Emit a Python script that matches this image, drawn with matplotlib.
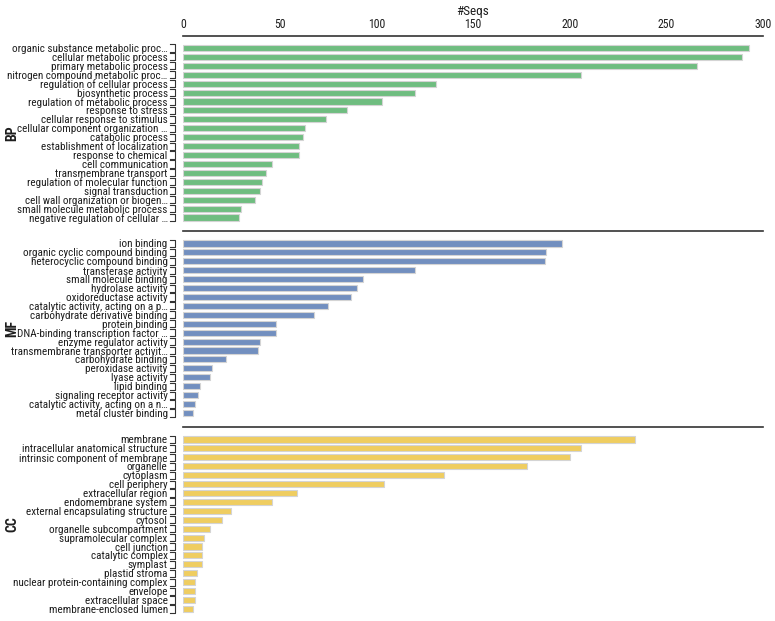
import matplotlib
matplotlib.use("Agg")
import matplotlib.pyplot as plt
import matplotlib.transforms as mtransforms
from matplotlib import font_manager


def has_font(name):
    try:
        font_manager.findfont(font_manager.FontProperties(family=name),
                              fallback_to_default=False)
        return True
    except ValueError:
        return False


# the reference uses a condensed face; use one if there is one installed
if has_font('Roboto Condensed'):
    base_font, label_size = 'Roboto Condensed', 8.0
elif has_font('Liberation Sans Narrow'):
    base_font, label_size = 'Liberation Sans Narrow', 8.0
else:
    base_font, label_size = 'Roboto', 7.0
plt.rcParams['font.family'] = [base_font, 'DejaVu Sans']

# --- data ---
bp_terms = [
    "organic substance metabolic proc…", "cellular metabolic process",
    "primary metabolic process", "nitrogen compound metabolic proc…",
    "regulation of cellular process", "biosynthetic process",
    "regulation of metabolic process", "response to stress",
    "cellular response to stimulus", "cellular component organization …",
    "catabolic process", "establishment of localization",
    "response to chemical", "cell communication", "transmembrane transport",
    "regulation of molecular function", "signal transduction",
    "cell wall organization or biogen…", "small molecule metabolic process",
    "negative regulation of cellular …",
]
bp_counts = [293, 289, 266, 206, 131, 120, 103, 85, 74, 63,
             62, 60, 60, 46, 43, 41, 40, 37, 30, 29]

mf_terms = [
    "ion binding", "organic cyclic compound binding",
    "heterocyclic compound binding", "transferase activity",
    "small molecule binding", "hydrolase activity", "oxidoreductase activity",
    "catalytic activity, acting on a p…", "carbohydrate derivative binding",
    "protein binding", "DNA-binding transcription factor …",
    "enzyme regulator activity", "transmembrane transporter activit…",
    "carbohydrate binding", "peroxidase activity", "lyase activity",
    "lipid binding", "signaling receptor activity",
    "catalytic activity, acting on a n…", "metal cluster binding",
]
mf_counts = [196, 188, 187, 120, 93, 90, 87, 75, 68, 48,
             48, 40, 39, 22, 15, 14, 9, 8, 6, 5]

cc_terms = [
    "membrane", "intracellular anatomical structure",
    "intrinsic component of membrane", "organelle", "cytoplasm",
    "cell periphery", "extracellular region", "endomembrane system",
    "external encapsulating structure", "cytosol",
    "organelle subcompartment", "supramolecular complex", "cell junction",
    "catalytic complex", "symplast", "plastid stroma",
    "nuclear protein-containing complex", "envelope",
    "extracellular space", "membrane-enclosed lumen",
]
cc_counts = [234, 206, 200, 178, 135, 104, 59, 46, 25, 20,
             14, 11, 10, 10, 10, 7, 6, 6, 6, 5]

groups = ["BP", "MF", "CC"]
colors = ["#6fbd80", "#728fbf", "#efcd60"]
x_ticks = [0, 50, 100, 150, 200, 250, 300]

W, H = 775, 621
fig = plt.figure(figsize=(W / 100, H / 100), dpi=100)

left_px, right_px = 183, 763
panel_tops = [35.5, 231, 427]
panel_h = 190

data = [(bp_terms, bp_counts), (mf_terms, mf_counts), (cc_terms, cc_counts)]

for k, (terms, counts) in enumerate(data):
    top = panel_tops[k]
    ax = fig.add_axes([left_px / W, 1 - (top + panel_h) / H,
                       (right_px - left_px) / W, panel_h / H])
    ypos = list(range(len(terms)))
    ax.barh(ypos, counts, height=0.68, color=colors[k],
            edgecolor="#d4d4d4", linewidth=0.8)
    ax.set_xlim(0, 300)
    ax.set_ylim(len(terms) - 0.1, -1.4)

    ax.set_yticks(ypos)
    ax.set_yticklabels(terms, fontsize=label_size, color="#1e1e1e")
    ax.tick_params(axis="y", length=0, pad=11)

    # bracket marks next to each category
    trans = mtransforms.blended_transform_factory(ax.transAxes, ax.transData)
    for y in ypos:
        ax.plot([-0.022, -0.0135, -0.0135, -0.022],
                [y - 0.4, y - 0.4, y + 0.4, y + 0.4],
                transform=trans, color="#333333", lw=0.8, clip_on=False)

    for side in ["left", "right", "bottom"]:
        ax.spines[side].set_visible(False)
    ax.spines["top"].set_color("#333333")
    ax.spines["top"].set_linewidth(1.2)

    ax.xaxis.tick_top()
    ax.set_xticks(x_ticks)
    if k == 0:
        ax.tick_params(axis="x", length=0, pad=3, labelsize=8.5,
                       labelcolor="#1e1e1e")
        ax.xaxis.set_label_position("top")
        ax.set_xlabel("#Seqs", fontsize=9.5, labelpad=2.5, color="#1e1e1e")
    else:
        ax.tick_params(axis="x", length=0, labeltop=False, labelbottom=False)

    center = top + 12.5 + (182 - 12.5) / 2
    fig.text(12 / W, 1 - center / H, groups[k], rotation=90,
             fontsize=10, fontweight="bold", ha="center", va="center",
             color="#1e1e1e")

fig.savefig("out.png", dpi=100)
